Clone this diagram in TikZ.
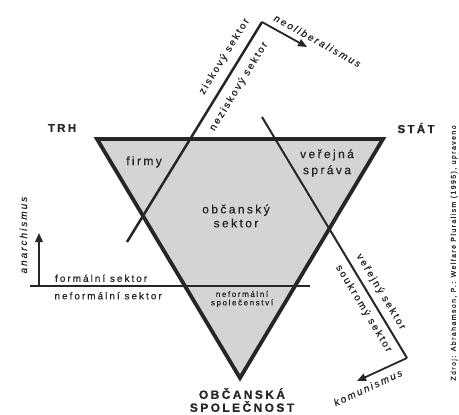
\documentclass[tikz,border=0pt]{standalone}
\usepackage{fontspec}
\newfontfamily\schemafont{Liberation Sans}[LetterSpace=20, FakeBold=0.6]
\usetikzlibrary{arrows.meta,positioning,calc}
\definecolor{schemaink}{HTML}{262626}
\definecolor{schemafill}{HTML}{D4D4D4}

\begin{document}
\begin{tikzpicture}[x=1pt, y=-1pt,
  region/.style={font=\schemafont\fontsize{12}{14}\selectfont, text=schemaink, align=center, inner sep=0pt},
  pole/.style={font=\schemafont\bfseries\fontsize{11.5}{13}\selectfont, text=schemaink, align=center, inner sep=0pt},
  sector/.style={font=\schemafont\fontsize{10}{12}\selectfont, text=schemaink, inner sep=1pt},
  doctrine/.style={font=\schemafont\itshape\fontsize{10}{12}\selectfont, text=schemaink, inner sep=1pt},
  edge/.style={draw=schemaink, line width=3.8pt, line join=miter},
  divider/.style={draw=schemaink, line width=2pt},
  swing/.style={draw=schemaink, line width=1.8pt, -{Triangle[length=9pt,width=7.5pt]}}
]
\useasboundingbox (0,0) rectangle (459,415);

% triangle corners
\coordinate (tl) at (97,139);
\coordinate (tr) at (383,139);
\coordinate (bt) at (240,378);
\fill[schemafill] (tl) -- (tr) -- (bt) -- cycle;

% ends of the dividing lines
\coordinate (zisk-a) at (127,242);
\coordinate (zisk-b) at (262,22);
\coordinate (neolib) at (307,47);
\coordinate (verej-a) at (262,117);
\coordinate (verej-b) at (407,358);
\coordinate (komun) at (357,381);
\coordinate (form-a) at (30,286);
\coordinate (form-b) at (310,286);
\coordinate (anar-a) at (39,286);
\coordinate (anar-b) at (39,233);

\draw[divider, line width=2.5pt] (zisk-a) -- (zisk-b)
  node[sector, pos=0.81, sloped, above=7pt] {ziskový sektor}
  node[sector, pos=0.74, sloped, below=7pt] {neziskový sektor};
\draw[swing] (zisk-b) -- (neolib)
  node[doctrine, pos=1.12, sloped, above=5pt] {neoliberalismus};

\draw[divider] (verej-a) -- (verej-b)
  node[sector, pos=0.75, sloped, above=5pt] {veřejný sektor}
  node[sector, pos=0.77, sloped, below=5pt] {soukromý sektor};
\draw[swing] (verej-b) -- (komun)
  node[doctrine, pos=0.87, sloped, below=5pt] {komunismus};

\draw[divider] (form-a) -- (form-b)
  node[sector, pos=0.254, above=2pt] {formální sektor}
  node[sector, pos=0.279, below=4pt] {neformální sektor};
\draw[swing] (anar-a) -- (anar-b)
  node[doctrine, pos=0.96, sloped, above=10pt] {anarchismus};

\draw[edge] (tl) -- (tr) -- (bt) -- cycle;

% labels
\node[pole] (trh) at (62,128) {TRH};
\node[pole] (stat) at (416,128) {STÁT};
\node[region] (firmy) at (144,162) {firmy};
\node[region, font=\schemafont\fontsize{12}{16}\selectfont] (sprava) at (327,163) {veřejná\\správa};
\node[region] (obsektor) at (236,216) {občanský\\sektor};
\node[region, font=\schemafont\fontsize{8}{8.5}\selectfont] (neform) at (242,299) {neformální\\společenství};
\node[pole, font=\schemafont\bfseries\fontsize{12}{13}\selectfont] (obspol) at (242,400) {OBČANSKÁ\\SPOLEČNOST};
\node[font=\schemafont\fontsize{7}{8}\selectfont, text=schemaink, rotate=90] (zdroj) at (454,253)
  {Zdroj: Abrahamson, P.: Welfare Pluralism (1995), upraveno};
\end{tikzpicture}
\end{document}
